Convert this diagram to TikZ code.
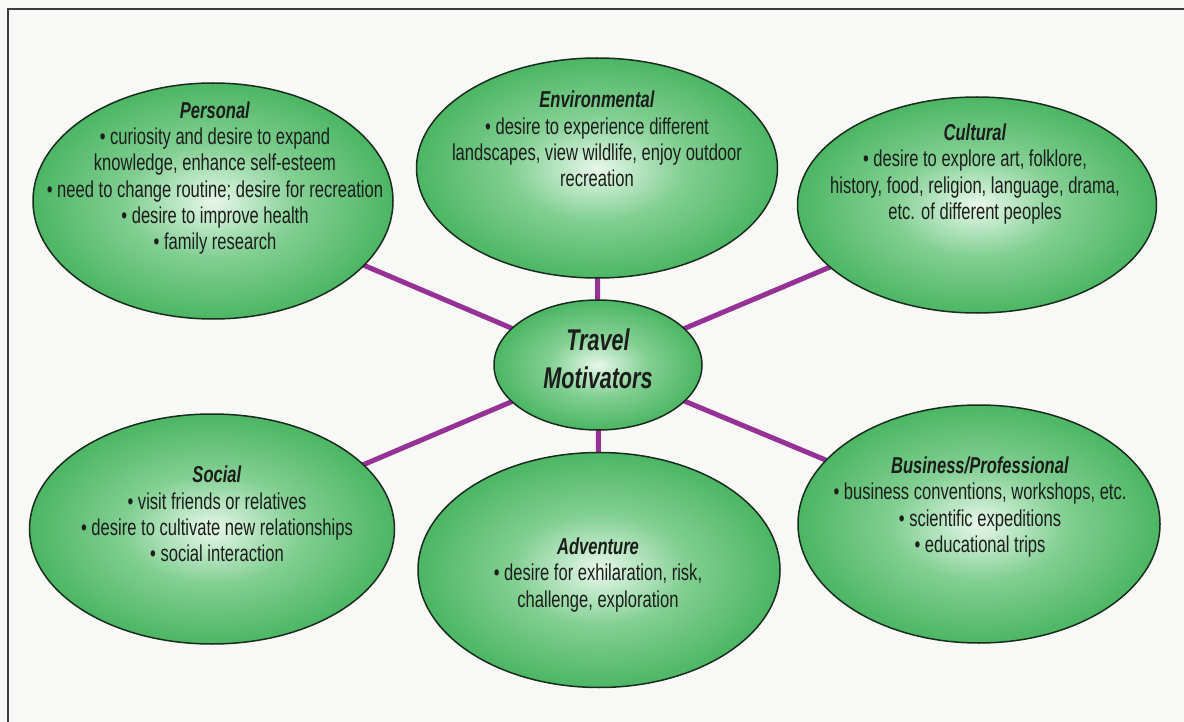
\documentclass[tikz,border=0pt]{standalone}
\usepackage{fontspec}
\setmainfont{Liberation Sans}[FakeStretch=0.72]
\usetikzlibrary{shapes.geometric}
\definecolor{gc0}{RGB}{232,247,235}
\definecolor{gc1}{RGB}{196,234,204}
\definecolor{gc2}{RGB}{130,207,146}
\definecolor{gc3}{RGB}{76,182,100}
\definecolor{linkc}{RGB}{150,50,150}
\definecolor{paper}{RGB}{248,248,246}
\definecolor{inkc}{RGB}{28,30,28}
\definecolor{rimc}{RGB}{25,45,30}
\definecolor{framec}{RGB}{60,60,60}
\pgfdeclareradialshading{ellshade}{\pgfpoint{0bp}{0bp}}{color(0bp)=(gc0); color(4bp)=(gc1); color(12bp)=(gc2); color(25bp)=(gc3); color(50bp)=(gc3)}
\pgfdeclarelayer{back}
\pgfdeclarelayer{links}
\pgfsetlayers{back,links,main}
\begin{document}
\begin{tikzpicture}[x=1pt,y=-1pt,
  bubble/.style={ellipse, draw=rimc, line width=1.5pt, shade, shading=ellshade, inner sep=0pt},
  bubbletext/.style={align=center, text=inkc, font=\fontsize{23}{26.3}\selectfont, inner sep=0pt},
  hubtext/.style={align=center, text=inkc, font=\fontsize{30}{38}\selectfont\bfseries\itshape, inner sep=0pt},
  connector/.style={draw=linkc, line width=5pt},
  framerule/.style={draw=framec, line width=1.5pt}]
\useasboundingbox (0,0) rectangle (1184,722);
\begin{pgfonlayer}{back}
\fill[paper] (0,0) rectangle (1184,722);
\draw[framerule] (7,9) -- (1184,9);
\draw[framerule] (8,9) -- (8,722);
\end{pgfonlayer}

\node[bubble, minimum width=360pt, minimum height=236pt] (personal) at (213,201) {};
\node[bubble, minimum width=361pt, minimum height=220pt] (environ) at (597,168) {};
\node[bubble, minimum width=359pt, minimum height=216pt] (cultural) at (977,205) {};
\node[bubble, minimum width=208pt, minimum height=130pt] (hub) at (598,365) {};
\node[bubble, minimum width=365pt, minimum height=230pt] (social) at (212,529) {};
\node[bubble, minimum width=362pt, minimum height=235pt] (adventure) at (599,570) {};
\node[bubble, minimum width=362pt, minimum height=238pt] (business) at (979,524) {};

\node[bubbletext] (personalT) at (215,178) {\textbf{\textit{Personal}}\\ • curiosity and desire to expand\\ knowledge, enhance self-esteem\\ • need to change routine; desire for recreation\\ • desire to improve health\\ • family research};
\node[bubbletext] (environT) at (597,139) {\textbf{\textit{Environmental}}\\ • desire to experience different\\ landscapes, view wildlife, enjoy outdoor\\ recreation};
\node[bubbletext] (culturalT) at (975,174) {\textbf{\textit{Cultural}}\\ • desire to explore art, folklore,\\ history, food, religion, language, drama,\\ etc. of different peoples};
\node[hubtext] (hubT) at (598,359) {Travel\\ Motivators};
\node[bubbletext] (socialT) at (217,514) {\textbf{\textit{Social}}\\ • visit friends or relatives\\ • desire to cultivate new relationships\\ • social interaction};
\node[bubbletext] (adventureT) at (598,575) {\textbf{\textit{Adventure}}\\ • desire for exhilaration, risk,\\ challenge, exploration};
\node[bubbletext] (businessT) at (980,507) {\textbf{\textit{Business/Professional}}\\ • business conventions, workshops, etc.\\ • scientific expeditions\\ • educational trips};

\begin{pgfonlayer}{links}
\draw[connector] (hub.center) -- (personal.center);
\draw[connector] (hub.center) -- (environ.center);
\draw[connector] (hub.center) -- (cultural.center);
\draw[connector] (hub.center) -- (social.center);
\draw[connector] (hub.center) -- (adventure.center);
\draw[connector] (hub.center) -- (business.center);
\end{pgfonlayer}
\end{tikzpicture}
\end{document}
